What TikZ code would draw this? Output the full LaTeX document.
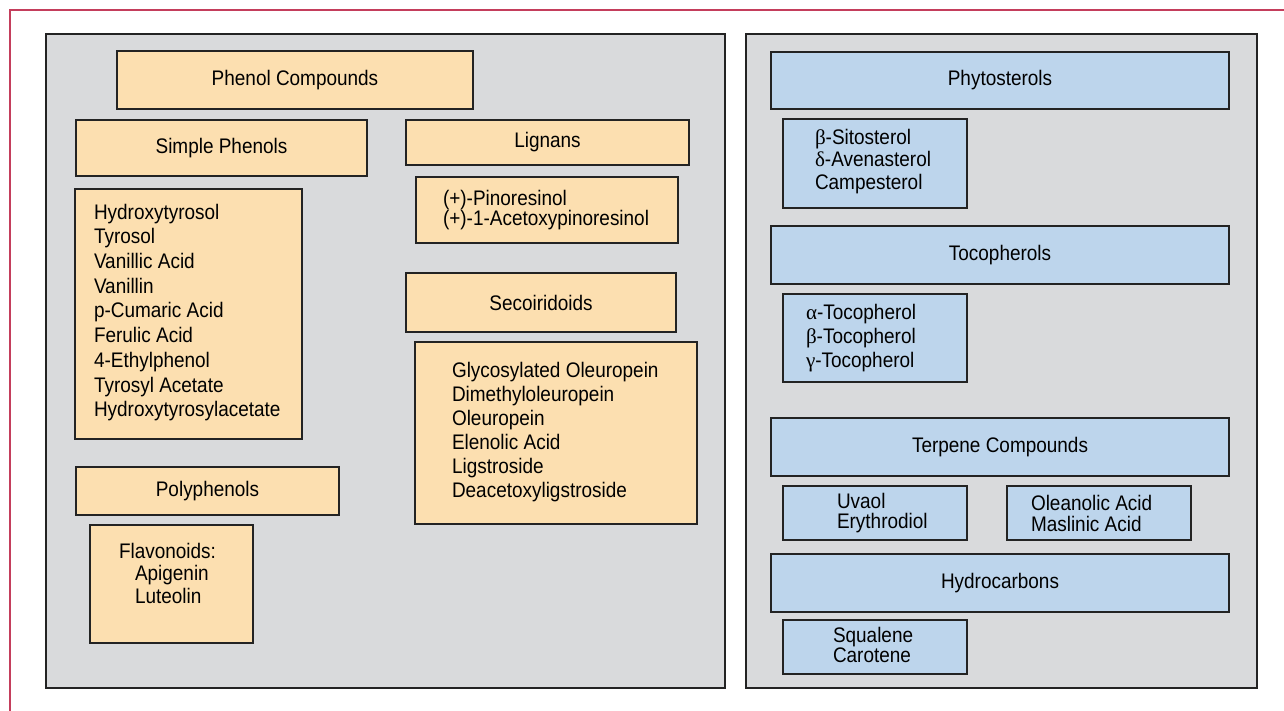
\documentclass[tikz,border=0pt]{standalone}
\usepackage{fontspec}
\setmainfont{Liberation Sans}[FakeStretch=0.9]
\newfontfamily\grk{Liberation Serif}
\definecolor{panelgray}{RGB}{217,218,220}
\definecolor{orangefill}{RGB}{252,223,176}
\definecolor{bluefill}{RGB}{189,213,236}
\definecolor{framered}{RGB}{196,62,92}
\definecolor{edge}{RGB}{35,35,35}
\newcommand\lf[1]{\fontsize{15.8pt}{#1pt}\selectfont}
\newcommand\bx[7]{\node[#1, anchor=north west, minimum width={(#4-#2)*0.75pt}, minimum height={(#5-#3)*0.75pt}] (#6) at (#2,#3) {#7};}
\tikzset{
  panel/.style={draw=edge, line width=1pt, fill=panelgray, inner sep=0pt, outer sep=0pt},
  obox/.style={draw=edge, line width=0.9pt, fill=orangefill, inner sep=0pt, outer sep=0pt, font=\lf{17}},
  bbox/.style={draw=edge, line width=0.9pt, fill=bluefill, inner sep=0pt, outer sep=0pt, font=\lf{17}},
  lst/.style={anchor=north west, inner sep=0pt, outer sep=0pt, align=left, text=black},
  frame/.style={draw=framered, line width=1.1pt}
}
\begin{document}
\begin{tikzpicture}[x=0.75pt,y=-0.75pt]
\useasboundingbox (0,0) rectangle (1284,710);
% outer frame
\coordinate (fa) at (10,712);
\coordinate (fb) at (10,10);
\coordinate (fc) at (1286,10);
\draw[frame] (fa) -- (fb) -- (fc);
% panels
\bx{panel}{46}{34}{725}{688}{lpanel}{}
\bx{panel}{746}{34}{1257}{688}{rpanel}{}
% left panel: phenol compounds
\bx{obox}{117}{51}{473}{109}{phenol}{Phenol Compounds}
\bx{obox}{76}{120}{367}{176}{simple}{Simple Phenols}
\bx{obox}{75}{189}{302}{439}{simplelist}{}
\node[lst, font=\lf{18.56}] (simpletext) at (94,{219-16}) {\rule{0pt}{12pt}Hydroxytyrosol\\Tyrosol\\Vanillic Acid\\Vanillin\\p-Cumaric Acid\\Ferulic Acid\\4-Ethylphenol\\Tyrosyl Acetate\\Hydroxytyrosylacetate};
\bx{obox}{406}{120}{689}{165}{lignans}{Lignans}
\bx{obox}{416}{177}{678}{243}{lignlist}{}
\node[lst, font=\lf{15.4}] (ligntext) at (443,{205-16}) {\rule{0pt}{12pt}(+)-Pinoresinol\\(+)-1-Acetoxypinoresinol};
\bx{obox}{406}{273}{676}{332}{seco}{Secoiridoids}
\bx{obox}{415}{342}{697}{524}{secolist}{}
\node[lst, font=\lf{18}] (secotext) at (452,{377-16}) {\rule{0pt}{12pt}Glycosylated Oleuropein\\Dimethyloleuropein\\Oleuropein\\Elenolic Acid\\Ligstroside\\Deacetoxyligstroside};
\bx{obox}{76}{467}{339}{515}{poly}{Polyphenols}
\bx{obox}{90}{525}{253}{643}{polylist}{}
\node[lst, font=\lf{16.9}] (polytext) at (119,{558-16}) {\rule{0pt}{12pt}Flavonoids:\\\hspace*{12pt}Apigenin\\\hspace*{12pt}Luteolin};
% right panel
\bx{bbox}{771}{52}{1229}{109}{phyto}{Phytosterols}
\bx{bbox}{783}{119}{967}{208}{phytolist}{}
\node[lst, font=\lf{17}] (phytotext) at (815,{144-16}) {\rule{0pt}{12pt}{\grk β}-Sitosterol\\{\grk δ}-Avenasterol\\Campesterol};
\bx{bbox}{771}{226}{1229}{284}{toco}{Tocopherols}
\bx{bbox}{783}{294}{967}{382}{tocolist}{}
\node[lst, font=\lf{18}] (tocotext) at (806,{319-16}) {\rule{0pt}{12pt}{\grk α}-Tocopherol\\{\grk β}-Tocopherol\\{\grk γ}-Tocopherol};
\bx{bbox}{771}{418}{1229}{476}{terp}{Terpene Compounds}
\bx{bbox}{783}{486}{967}{540}{uvaol}{}
\node[lst, font=\lf{15.5}] (uvaoltext) at (837,{508-16}) {\rule{0pt}{12pt}Uvaol\\Erythrodiol};
\bx{bbox}{1007}{486}{1191}{540}{olean}{}
\node[lst, font=\lf{16.3}] (oleantext) at (1031,{510-16}) {\rule{0pt}{12pt}Oleanolic Acid\\Maslinic Acid};
\bx{bbox}{771}{554}{1229}{612}{hydro}{Hydrocarbons}
\bx{bbox}{783}{620}{967}{674}{squal}{}
\node[lst, font=\lf{15.3}] (squaltext) at (833,{642-16}) {\rule{0pt}{12pt}Squalene\\Carotene};
\end{tikzpicture}
\end{document}
